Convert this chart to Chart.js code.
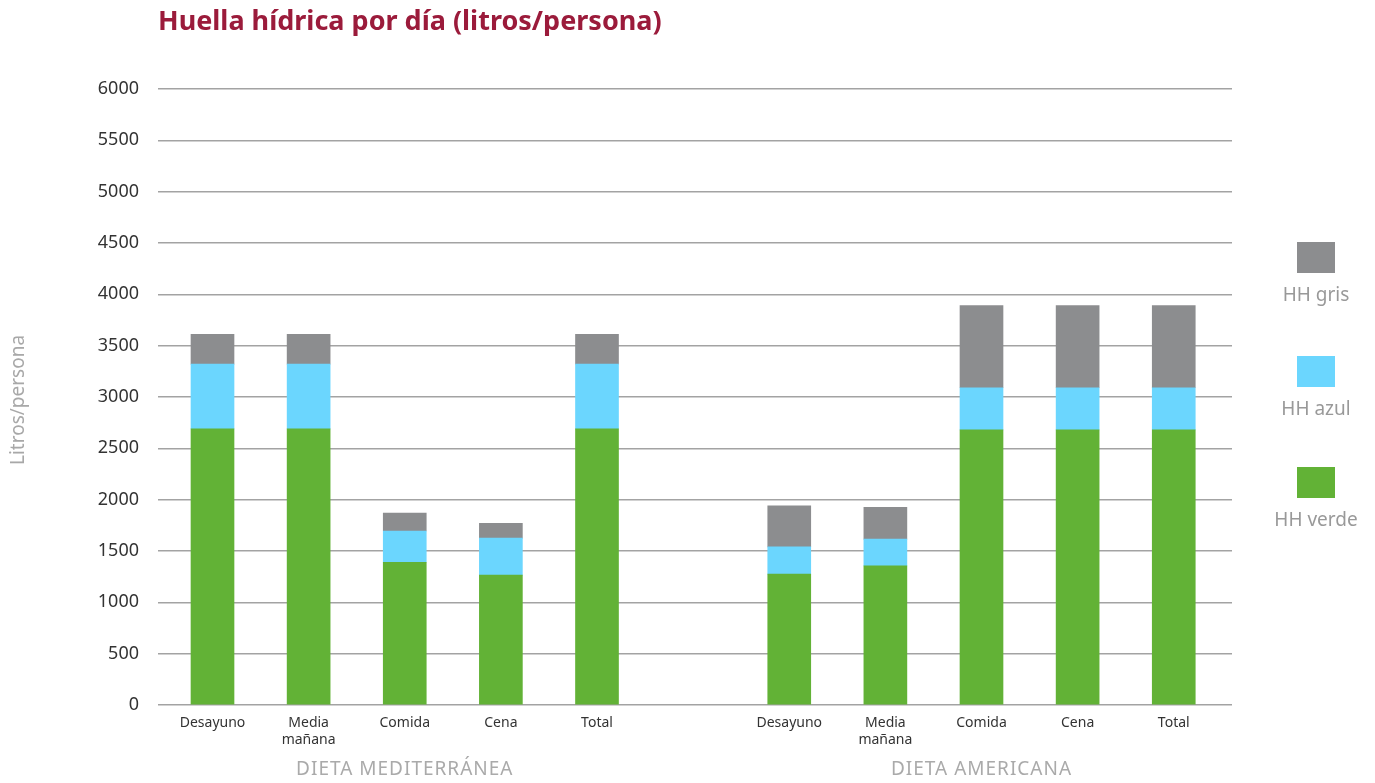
<!DOCTYPE html>
<html>
<head>
<meta charset="utf-8">
<script src="https://cdn.jsdelivr.net/npm/chart.js@4"></script>
<style>
  html, body { margin: 0; padding: 0; background: #fff; }
  #wrap { width: 1375px; height: 783px; position: relative; }
</style>
</head>
<body>
<div id="wrap"><canvas id="huellaChart" width="1375" height="783"></canvas></div>
<script>
// categories per diet
const comidas = ['Desayuno', 'Media mañana', 'Comida', 'Cena', 'Total'];
const dietas = ['DIETA MEDITERRÁNEA', 'DIETA AMERICANA'];

// litros/persona, Mediterranean then American
const hhVerdeMed = [2690, 2690, 1390, 1265, 2690];
const hhAzulMed  = [630, 630, 305, 360, 630];
const hhGrisMed  = [290, 290, 175, 145, 290];

const hhVerdeAme = [1275, 1355, 2680, 2680, 2680];
const hhAzulAme  = [265, 260, 410, 410, 410];
const hhGrisAme  = [400, 310, 800, 800, 800];

const yTicks = [0, 500, 1000, 1500, 2000, 2500, 3000, 3500, 4000, 4500, 5000, 5500, 6000];

// slot positions on the x axis, one empty slot between the two diets
const posMed = [0, 1, 2, 3, 4];
const posAme = [6, 7, 8, 9, 10];
const allPos = posMed.concat(posAme);
const allLabels = comidas.concat(comidas);

const toPoints = (med, ame) =>
    posMed.map((x, i) => ({ x: x, y: med[i] })).concat(posAme.map((x, i) => ({ x: x, y: ame[i] })));

const FONT = '"Noto Sans", "DejaVu Sans", sans-serif';

const extrasPlugin = {
    id: 'extras',
    afterDraw(chart) {
        const ctx = chart.ctx;
        const xs = chart.scales.x;
        ctx.save();

        // title
        ctx.fillStyle = '#9b1b3b';
        ctx.font = 'bold 27px ' + FONT;
        ctx.textAlign = 'left';
        ctx.textBaseline = 'middle';
        ctx.fillText('Huella hídrica por día (litros/persona)', 158, 22);

        // y axis title
        ctx.save();
        ctx.translate(19, 400);
        ctx.rotate(-Math.PI / 2);
        ctx.fillStyle = '#a8a8a8';
        ctx.font = '19px ' + FONT;
        ctx.textAlign = 'center';
        ctx.fillText('Litros/persona', 0, 0);
        ctx.restore();

        // diet labels under each group
        ctx.fillStyle = '#aaaaaa';
        ctx.font = '19px ' + FONT;
        ctx.letterSpacing = '1px';
        ctx.textAlign = 'center';
        ctx.fillText(dietas[0], xs.getPixelForValue(posMed[2]), 770);
        ctx.fillText(dietas[1], xs.getPixelForValue(posAme[2]), 770);
        ctx.letterSpacing = '0px';

        // legend on the right, top to bottom: gris, azul, verde
        const items = [...chart.data.datasets].reverse();
        const tops = [242, 356, 467];
        items.forEach((ds, i) => {
            ctx.fillStyle = ds.backgroundColor;
            ctx.fillRect(1297, tops[i], 38, 31);
            ctx.fillStyle = '#999999';
            ctx.font = '19px ' + FONT;
            ctx.fillText(ds.label, 1316, tops[i] + 54);
        });
        ctx.restore();
    }
};

new Chart(document.getElementById('huellaChart').getContext('2d'), {
    type: 'bar',
    data: {
        datasets: [
            { label: 'HH verde', data: toPoints(hhVerdeMed, hhVerdeAme), backgroundColor: '#62b236' },
            { label: 'HH azul',  data: toPoints(hhAzulMed, hhAzulAme),   backgroundColor: '#6bd6fe' },
            { label: 'HH gris',  data: toPoints(hhGrisMed, hhGrisAme),   backgroundColor: '#8c8d8f' },
        ],
    },
    options: {
        responsive: false,
        animation: false,
        barThickness: 43,
        layout: { padding: { left: 0, right: 143, top: 89, bottom: 0 } },
        plugins: { legend: { display: false }, tooltip: { enabled: false } },
        scales: {
            x: {
                type: 'linear',
                stacked: true,
                offset: false,
                min: -0.567,
                max: 10.606,
                afterBuildTicks: (scale) => { scale.ticks = allPos.map((v) => ({ value: v })); },
                afterFit: (scale) => { scale.height = 78; },
                grid: { display: false, offset: false },
                border: { display: false },
                ticks: {
                    autoSkip: false,
                    maxRotation: 0,
                    padding: 2,
                    color: '#333333',
                    font: { family: FONT, size: 14 },
                    callback: (v) => {
                        const i = allPos.indexOf(v);
                        if (i < 0) return '';
                        return allLabels[i].split(' ');
                    },
                },
            },
            y: {
                stacked: true,
                min: 0,
                max: 6000,
                afterBuildTicks: (scale) => { scale.ticks = yTicks.map((v) => ({ value: v })); },
                afterFit: (scale) => { scale.width = 158; },
                grid: { color: '#a3a3a3', lineWidth: 1.5, drawTicks: false },
                border: { display: false },
                ticks: {
                    padding: 19,
                    color: '#333333',
                    font: { family: FONT, size: 18 },
                    callback: (v) => String(v),
                },
            },
        },
    },
    plugins: [extrasPlugin],
});
</script>
</body>
</html>
